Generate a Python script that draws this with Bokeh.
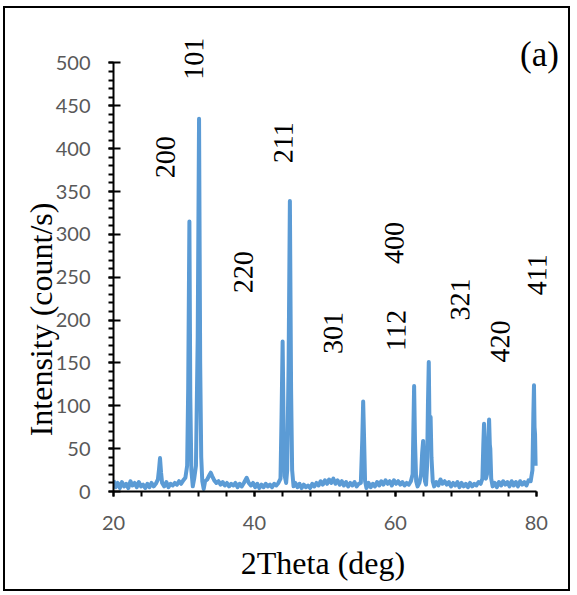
from bokeh.plotting import figure
from bokeh.models import Range1d, SingleIntervalTicker, Label, LabelSet, ColumnDataSource
from bokeh.core.properties import value
from bokeh.embed import file_html
from bokeh.resources import INLINE

# XRD pattern (2theta in deg, intensity in count/s)
two_theta = [
    20.0, 20.3, 20.6, 20.9, 21.2, 21.5, 21.8, 22.1, 22.4, 22.7, 23.0, 23.3, 23.6, 23.9,
    24.2, 24.5, 24.8, 25.1, 25.4, 25.7, 26.0, 26.3, 26.45, 26.6, 26.75, 26.9,
    27.2, 27.5, 27.8, 28.1, 28.4, 28.7, 29.0, 29.3, 29.6, 29.9, 30.2, 30.45,
    30.6, 30.77, 30.9, 31.05, 31.25, 31.45,
    31.7, 31.95, 32.14, 32.3, 32.45, 32.6, 32.8, 33.0, 33.3, 33.6, 33.8, 34.0, 34.3,
    34.6, 34.9, 35.2, 35.5, 35.8, 36.1, 36.4, 36.7, 37.0, 37.3, 37.6, 37.9, 38.2,
    38.5, 38.9, 39.2, 39.5, 39.8, 40.1, 40.4, 40.7, 41.0, 41.3, 41.6, 41.9, 42.2,
    42.5, 42.8, 43.1, 43.4, 43.7,
    43.85, 44.0, 44.15, 44.3, 44.5, 44.65,
    44.85, 45.03, 45.2, 45.35, 45.55, 45.8, 46.1, 46.4, 46.7, 47.0, 47.3, 47.6,
    47.9, 48.2, 48.5, 48.8, 49.1, 49.4, 49.7, 50.0, 50.3, 50.6, 50.9, 51.2, 51.5,
    51.8, 52.1, 52.4, 52.7, 53.0, 53.3, 53.6, 53.9, 54.2, 54.5, 54.8, 55.1,
    55.3, 55.43, 55.55, 55.7, 55.9, 56.2, 56.5, 56.8, 57.1, 57.4, 57.7, 58.0, 58.3,
    58.6, 58.9, 59.2, 59.5, 59.8, 60.1, 60.4, 60.7, 61.0, 61.3, 61.6, 61.9, 62.2, 62.45,
    62.55, 62.66, 62.78, 62.95, 63.15, 63.4, 63.65, 63.8, 63.94, 64.05, 64.2, 64.35,
    64.5, 64.62, 64.74, 64.85, 65.0, 65.12, 65.3, 65.5, 65.8, 66.1, 66.4, 66.7, 67.0,
    67.3, 67.6, 67.9, 68.2, 68.5, 68.8, 69.1, 69.4, 69.7, 70.0, 70.3, 70.6, 70.9,
    71.2, 71.5, 71.8, 72.1, 72.35,
    72.48, 72.58, 72.7, 72.85, 73.0, 73.18, 73.3, 73.4, 73.47, 73.6, 73.8, 74.1,
    74.4, 74.7, 75.0, 75.3, 75.6, 75.9, 76.2, 76.5, 76.8, 77.1, 77.4, 77.7, 78.0,
    78.3, 78.6, 78.9, 79.2, 79.45, 79.58, 79.67, 79.75, 79.82, 79.9,
]
intensity = [
    13, 5, 10, 4, 11, 6, 9, 4, 12, 7, 10, 5, 11, 6,
    8, 4, 9, 5, 10, 6, 9, 14, 25, 39, 22, 10,
    6, 11, 5, 9, 7, 10, 8, 12, 9, 13, 16, 30,
    120, 315, 110, 25, 6, 15,
    30, 180, 435, 150, 40, 12, 3, 12, 14, 19, 22, 18, 13,
    10, 12, 8, 11, 7, 10, 6, 9, 7, 10, 5, 9, 6,
    10, 16, 10, 7, 10, 5, 9, 4, 8, 5, 9, 6, 8,
    5, 9, 7, 10, 15,
    90, 175, 70, 18, 10, 25,
    150, 339, 120, 25, 6, 10, 5, 9, 4, 8, 5, 7,
    4, 9, 6, 10, 7, 12, 8, 13, 9, 14, 10, 15, 9,
    13, 8, 12, 7, 11, 6, 10, 7, 11, 6, 9, 10,
    60, 105, 65, 12, 4, 10, 5, 9, 6, 11, 7, 12, 8,
    13, 9, 12, 7, 13, 9, 12, 8, 11, 7, 10, 8, 12, 20,
    70, 123, 60, 12, 6, 10, 20, 45, 59, 35, 12, 8,
    30, 100, 151, 70, 87, 40, 12, 6, 11, 7, 14, 9, 12,
    8, 11, 6, 10, 7, 11, 5, 10, 6, 9, 5, 10, 6,
    9, 7, 11, 9, 15,
    55, 79, 40, 15, 20, 60, 84, 55, 50, 15, 6, 10,
    5, 11, 7, 12, 8, 11, 6, 12, 7, 11, 6, 12, 8,
    11, 7, 13, 12, 25, 90, 124, 75, 67, 30,
]

# Miller-index annotations and their positions (data coordinates)
hkl_text = ["101", "200", "211", "220", "301", "400", "112", "321", "420", "411"]
hkl_x = [31.45, 27.41, 44.14, 38.47, 51.2, 59.87, 60.16, 69.23, 74.9, 80.15]
hkl_y = [505, 390, 407, 256, 185, 290, 188, 224, 175, 253]

x_ticks_major = 20
y_ticks_major = 50
x_axis_bounds = (20, 80)
y_axis_bounds = (0, 500)

NB = "\u00a0"
SERIF = "Liberation Serif"
VERTICAL = 1.565  # just off exact 90 deg so the serif face is kept

p = figure(
    frame_width=451, frame_height=480,
    min_border_left=108, min_border_right=4, min_border_top=3, min_border_bottom=98,
    x_range=Range1d(20, 84), y_range=Range1d(0, 560),
    output_backend="svg", toolbar_location=None,
    background_fill_color="white", border_fill_color="white",
)
p.styles = {"border": "2px solid black", "margin-left": "3px", "margin-top": "6px"}
p.outline_line_color = None
p.grid.visible = False

p.line(two_theta, intensity, line_width=4, line_color="#5B9BD5", line_join="round")

# axes
p.xaxis.ticker = SingleIntervalTicker(interval=x_ticks_major, num_minor_ticks=5)
p.yaxis.ticker = SingleIntervalTicker(interval=y_ticks_major, num_minor_ticks=5)
p.xaxis.bounds = x_axis_bounds
p.yaxis.bounds = y_axis_bounds
for ax in (p.xaxis[0], p.yaxis[0]):
    ax.axis_line_color = "black"
    ax.axis_line_width = 2
    ax.major_tick_line_color = "black"
    ax.major_tick_line_width = 2
    ax.minor_tick_line_color = "black"
    ax.minor_tick_line_width = 2
    ax.major_label_text_font = "Lato"
    ax.major_label_text_font_size = "20px"
    ax.major_label_text_color = "#595959"
    ax.axis_label_text_font = SERIF
    ax.axis_label_text_font_size = "32px"
    ax.axis_label_text_font_style = "normal"
    ax.axis_label_text_color = "black"

p.xaxis.major_tick_in = 0
p.xaxis.major_tick_out = 5
p.xaxis.minor_tick_in = 0
p.xaxis.minor_tick_out = 5
p.xaxis.major_label_standoff = 19
p.xaxis.axis_label = "2Theta (deg)" + NB * 4
p.xaxis.axis_label_standoff = 12

p.yaxis.major_tick_in = 7
p.yaxis.major_tick_out = 5
p.yaxis.minor_tick_in = 0
p.yaxis.minor_tick_out = 5
p.yaxis.major_label_standoff = 18
p.yaxis.axis_label = "Intensity (count/s)" + NB * 17
p.yaxis.axis_label_standoff = -6

# panel tag
p.add_layout(Label(
    x=80.45, y=510, text="(a)",
    text_font=SERIF, text_font_size="35px", text_color="black",
    text_align="center", text_baseline="middle",
))

src = ColumnDataSource(dict(x=hkl_x, y=hkl_y, t=hkl_text))
p.add_layout(LabelSet(
    x="x", y="y", text="t", source=src, angle=VERTICAL,
    text_font=value(SERIF), text_font_size="28px", text_color="black",
    text_align="center", text_baseline="middle",
))

open("out.html", "w").write(file_html(p, INLINE))
